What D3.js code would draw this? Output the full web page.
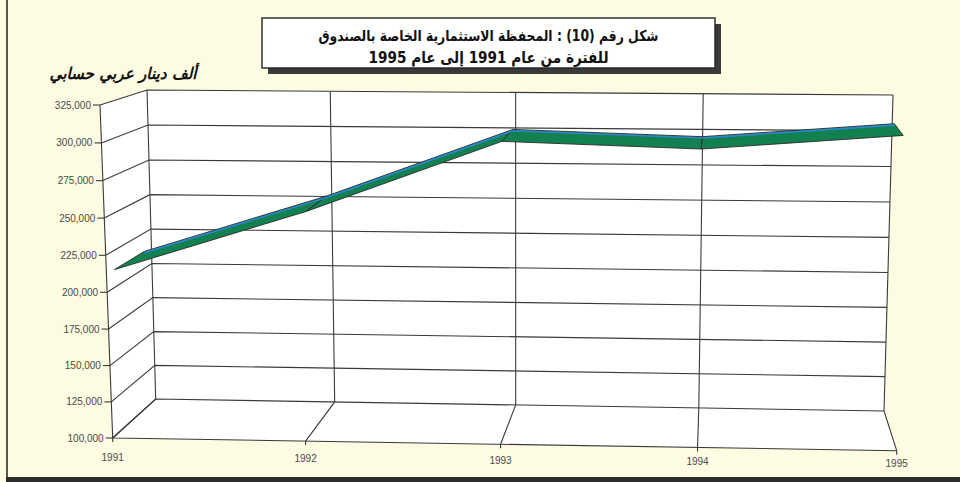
<!DOCTYPE html>
<html>
<head>
<meta charset="utf-8">
<script src="https://cdn.jsdelivr.net/npm/d3@7"></script>
<style>
  html, body { margin: 0; padding: 0; background: #fdfbe2; }
  svg { display: block; }
</style>
</head>
<body>
<svg id="chart" width="960" height="482"></svg>
<script>
// Portfolio value by year (thousand Arab accounting dinars)
const years = ["1991", "1992", "1993", "1994", "1995"];
const portfolio = [212000, 253000, 301000, 297000, 307000];
const valueTicks = [100000, 125000, 150000, 175000, 200000, 225000, 250000, 275000, 300000, 325000];

const titleLines = [
  "شكل رقم (10) : المحفظة الاستثمارية الخاصة بالصندوق",
  "للفترة من عام 1991 إلى عام 1995"
];
const unitLabel = "ألف دينار عربي حسابي";

const W = 960, H = 482;
const svg = d3.select("#chart");

// Unit scales for the 3D box: category -> [0,1], value -> [0,1]
const u = d3.scalePoint().domain(years).range([0, 1]);
const w = d3.scaleLinear().domain([100000, 325000]).range([0, 1]);

// Perspective map of the unit square onto a quadrilateral
// corners: p0=(0,0) p1=(1,0) p2=(1,1) p3=(0,1)
function quadMap(p0, p1, p2, p3) {
  const dx1 = p1[0] - p2[0], dx2 = p3[0] - p2[0], dx3 = p0[0] - p1[0] + p2[0] - p3[0];
  const dy1 = p1[1] - p2[1], dy2 = p3[1] - p2[1], dy3 = p0[1] - p1[1] + p2[1] - p3[1];
  const den = dx1 * dy2 - dx2 * dy1;
  const g = (dx3 * dy2 - dx2 * dy3) / den;
  const h = (dx1 * dy3 - dx3 * dy1) / den;
  const a = p1[0] - p0[0] + g * p1[0], b = p3[0] - p0[0] + h * p3[0], c = p0[0];
  const d = p1[1] - p0[1] + g * p1[1], e = p3[1] - p0[1] + h * p3[1], f = p0[1];
  return (s, t) => {
    const q = g * s + h * t + 1;
    return [(a * s + b * t + c) / q, (d * s + e * t + f) / q];
  };
}

// Front plane (depth 0) and back wall (depth 1)
const front = quadMap([112.7, 438], [896.7, 450.7], [906.4, 110.7], [100, 105]);
const back  = quadMap([155.7, 399], [884, 411], [893, 95], [147, 90]);

function P(s, t, depth) {
  const f = front(s, t), b = back(s, t);
  return [f[0] + (b[0] - f[0]) * depth, f[1] + (b[1] - f[1]) * depth];
}

const line = d3.line();
const stroke = "#3a3a3a";

// Background and frame
svg.append("rect").attr("width", W).attr("height", H).attr("fill", "#fdfbe2");
svg.append("line").attr("x1", 7).attr("y1", 0).attr("x2", 7).attr("y2", 478)
  .attr("stroke", "#555").attr("stroke-width", 2);
svg.append("rect").attr("x", 6).attr("y", 477).attr("width", W - 6).attr("height", 5)
  .attr("fill", "#2c2c2c");

// Walls and floor
const walls = svg.append("g");
walls.append("path")
  .attr("d", line([P(0, 0, 1), P(1, 0, 1), P(1, 1, 1), P(0, 1, 1)]) + "Z")
  .attr("fill", "#fff");
walls.append("path")
  .attr("d", line([P(0, 0, 0), P(0, 0, 1), P(0, 1, 1), P(0, 1, 0)]) + "Z")
  .attr("fill", "#fff");
walls.append("path")
  .attr("d", line([P(0, 0, 0), P(1, 0, 0), P(1, 0, 1), P(0, 0, 1)]) + "Z")
  .attr("fill", "#fff");

const grid = svg.append("g").attr("fill", "none").attr("stroke", stroke).attr("stroke-width", 1.1);

// Value gridlines: side wall + back wall
valueTicks.forEach(v => {
  const t = w(v);
  grid.append("path").attr("d", line([P(0, t, 0), P(0, t, 1), P(1, t, 1)]));
});
// Category gridlines: floor + back wall
years.forEach(y => {
  const s = u(y);
  grid.append("path").attr("d", line([P(s, 0, 0), P(s, 0, 1), P(s, 1, 1)]));
});
// Outer edges
grid.append("path").attr("d", line([P(0, 1, 0), P(0, 0, 0), P(1, 0, 0)]));

// Value axis ticks and labels
const yAxis = svg.append("g");
valueTicks.forEach(v => {
  const p = P(0, w(v), 0);
  yAxis.append("line")
    .attr("x1", p[0] - 7).attr("x2", p[0]).attr("y1", p[1]).attr("y2", p[1])
    .attr("stroke", stroke).attr("stroke-width", 1.1);
  yAxis.append("text")
    .attr("x", p[0] - 9).attr("y", p[1]).attr("dy", "0.35em")
    .attr("text-anchor", "end")
    .attr("font-family", "Liberation Sans, Arial, sans-serif")
    .attr("font-size", 10).attr("fill", "#4a4a4a")
    .text(d3.format(",")(v));
});

// Category axis ticks and labels
const xAxis = svg.append("g");
years.forEach(y => {
  const s = u(y);
  const p = P(s, 0, 0);
  xAxis.append("line")
    .attr("x1", p[0]).attr("x2", p[0]).attr("y1", p[1]).attr("y2", p[1] + 4)
    .attr("stroke", stroke).attr("stroke-width", 1.1);
  xAxis.append("text")
    .attr("x", p[0]).attr("y", p[1] + 19 - 6.5 * s).attr("dy", "0.35em")
    .attr("text-anchor", "middle")
    .attr("font-family", "Liberation Sans Narrow, Arial Narrow, Liberation Sans, sans-serif")
    .attr("font-size", 10).attr("fill", "#4a4a4a")
    .text(y);
});

// Ribbon for the series
const dFront = 0.18, dBack = 0.84;
const pts = years.map((y, i) => ({ s: u(y), t: w(portfolio[i]) }));
const ribbon = svg.append("g");
for (let i = 0; i < pts.length - 1; i++) {
  const a = pts[i], b = pts[i + 1];
  ribbon.append("path")
    .attr("d", line([P(a.s, a.t, dFront), P(b.s, b.t, dFront), P(b.s, b.t, dBack), P(a.s, a.t, dBack)]) + "Z")
    .attr("fill", "#12804f").attr("stroke", "#2a2a2a").attr("stroke-width", 0.9)
    .attr("stroke-linejoin", "round");
}
ribbon.append("path")
  .attr("d", line(pts.map(p => P(p.s, p.t, dBack))))
  .attr("transform", "translate(0,1.4)")
  .attr("fill", "none").attr("stroke", "#2c86d4").attr("stroke-width", 1.6);

// Unit label
svg.append("text")
  .attr("x", 123).attr("y", 73).attr("dy", "0.35em")
  .attr("text-anchor", "middle").attr("direction", "rtl")
  .attr("font-family", "DejaVu Sans, sans-serif").attr("font-weight", "bold")
  .attr("font-style", "italic")
  .attr("font-size", 16).attr("fill", "#111")
  .attr("textLength", 147).attr("lengthAdjust", "spacingAndGlyphs")
  .text(unitLabel);

// Title box with drop shadow
const tb = { x: 262, y: 18, w: 453, h: 50 };
svg.append("rect").attr("x", tb.x + 6).attr("y", tb.y + 6).attr("width", tb.w).attr("height", tb.h)
  .attr("fill", "#3a3a3a");
svg.append("rect").attr("x", tb.x).attr("y", tb.y).attr("width", tb.w).attr("height", tb.h)
  .attr("fill", "#fff").attr("stroke", "#222").attr("stroke-width", 1.4);

const titleSizes = [15, 16];
const titleWidths = [340, 240];
titleLines.forEach((t, i) => {
  svg.append("text")
    .attr("x", tb.x + tb.w / 2).attr("y", tb.y + 18 + i * 21).attr("dy", "0.35em")
    .attr("text-anchor", "middle").attr("direction", "rtl")
    .attr("font-family", "DejaVu Sans, sans-serif").attr("font-weight", "bold")
    .attr("font-size", titleSizes[i]).attr("fill", "#111")
    .attr("textLength", titleWidths[i]).attr("lengthAdjust", "spacingAndGlyphs")
    .text(t);
});
</script>
</body>
</html>
